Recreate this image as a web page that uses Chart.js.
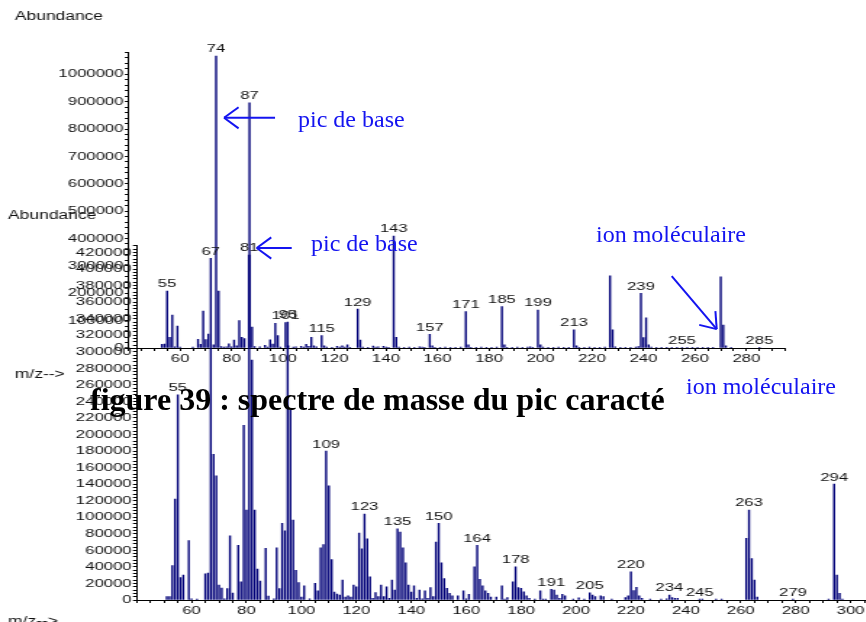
<!DOCTYPE html>
<html>
<head>
<meta charset="utf-8">
<script src="https://cdn.jsdelivr.net/npm/chart.js@4.4.0/dist/chart.umd.min.js"></script>
<style>
  html, body { margin: 0; padding: 0; background: #fff; }
  #sheet { position: relative; width: 866px; height: 622px; overflow: hidden; background: #fff; }
  #sheet canvas { position: absolute; left: 0; top: 0; transform: scaleX(1.45); transform-origin: 0 0; }
  #notes { position: absolute; left: 0; top: 0; }
</style>
</head>
<body>
<div id="sheet">
  <canvas id="specTop" width="598" height="622"></canvas>
  <canvas id="specBottom" width="598" height="622"></canvas>
  <svg id="notes" width="866" height="622" xmlns="http://www.w3.org/2000/svg"></svg>
</div>
<script>
// spectrum 1 (upper): m/z and abundance
var topMz = [53, 54, 55, 56, 57, 58, 59, 60, 65, 67, 68, 69, 70, 71, 73, 74, 75, 76, 77, 78, 79, 80,
  81, 82, 83, 84, 85, 87, 88, 89, 91, 93, 94, 95, 96, 97, 98, 99, 101, 102, 104, 105, 107, 108, 109,
  110, 111, 112, 113, 115, 116, 117, 119, 121, 122, 123, 124, 125, 126, 129, 130, 131, 133, 135, 136,
  137, 139, 140, 141, 143, 144, 145, 147, 149, 151, 153, 154, 155, 157, 158, 159, 161, 163, 165, 167,
  169, 171, 172, 173, 175, 177, 179, 181, 183, 185, 186, 187, 189, 191, 193, 195, 196, 197, 199, 200,
  201, 203, 205, 207, 209, 211, 213, 214, 215, 217, 219, 221, 223, 225, 227, 228, 229, 231, 233, 235,
  237, 238, 239, 240, 241, 242, 243, 245, 247, 249, 251, 253, 255, 257, 259, 261, 263, 265, 267, 270,
  271, 272, 274, 285];
var topAbund = [13500, 14600, 208000, 39000, 120000, 4000, 80000, 3000, 3000, 32000, 13000, 135000,
  31000, 51000, 12000, 1067000, 208000, 5000, 3000, 4000, 15000, 4000, 29000, 8000, 100000, 39000,
  34000, 896000, 76000, 5000, 4000, 10000, 3000, 30000, 14000, 90000, 45000, 3000, 92500, 8000, 3000,
  4000, 6000, 3000, 13000, 6000, 39000, 8000, 4000, 45000, 8000, 3000, 2000, 6000, 3000, 8000, 3000,
  12000, 2000, 142000, 29000, 3000, 2000, 7000, 3000, 4000, 6000, 3000, 2000, 409000, 39000, 3000,
  2000, 3000, 2000, 4000, 3000, 2000, 50000, 8000, 2000, 2000, 3000, 2000, 2000, 3000, 133000, 12000,
  2000, 2000, 3000, 2000, 2000, 3000, 151000, 12000, 2000, 2000, 3000, 2000, 3000, 4000, 2000, 139000,
  12000, 3000, 2000, 2000, 3000, 2000, 2000, 66000, 8000, 2000, 2000, 3000, 2000, 2000, 3000, 264000,
  66000, 4000, 2000, 2000, 2000, 3000, 5000, 200000, 38000, 110000, 12000, 3000, 2000, 2000, 2000,
  2000, 2000, 2000, 2000, 2000, 2000, 2000, 2000, 2000, 260000, 84000, 8000, 2000, 1000];
var topPeakLabels = [55, 74, 87, 101, 115, 129, 143, 157, 171, 185, 199, 213, 239, 255, 285];
var topYLabels = [0, 100000, 200000, 300000, 400000, 500000, 600000, 700000, 800000, 900000, 1000000];
var topXLabels = [60, 80, 100, 120, 140, 160, 180, 200, 220, 240, 260, 280];

// spectrum 2 (lower): m/z and abundance
var botMz = [51, 52, 53, 54, 55, 56, 57, 59, 60, 62, 65, 66, 67, 68, 69, 70, 71, 72, 73, 74, 75, 77,
  78, 79, 80, 81, 82, 83, 84, 85, 87, 88, 90, 91, 92, 93, 94, 95, 96, 97, 98, 99, 100, 101, 103, 105,
  106, 107, 108, 109, 110, 111, 112, 113, 114, 115, 116, 117, 118, 119, 120, 121, 122, 123, 124, 125,
  126, 127, 128, 129, 130, 131, 132, 133, 134, 135, 136, 137, 138, 139, 140, 141, 142, 143, 144, 145,
  146, 147, 148, 149, 150, 151, 152, 153, 154, 155, 157, 159, 160, 161, 163, 164, 165, 166, 167, 168,
  169, 171, 173, 174, 175, 177, 178, 179, 180, 181, 182, 183, 185, 187, 188, 189, 191, 192, 193, 194,
  195, 196, 199, 201, 203, 205, 206, 207, 209, 210, 213, 218, 219, 220, 221, 222, 223, 224, 227, 231,
  233, 234, 235, 236, 237, 245, 246, 251, 253, 262, 263, 264, 265, 266, 279, 292, 294, 295, 296, 297];
var botAbund = [4000, 4000, 41500, 122000, 248000, 27000, 30000, 71700, 1500, 1000, 31500, 32600,
  413000, 176000, 150000, 18000, 14500, 1500, 13700, 77700, 8500, 66000, 22000, 211000, 108800,
  417000, 290000, 108800, 37500, 23000, 62500, 4800, 1500, 63000, 13700, 92700, 83500, 336000, 229600,
  96700, 36000, 21000, 3600, 17000, 1500, 20000, 11000, 63000, 67000, 180000, 138000, 49000, 9700,
  7300, 6000, 24000, 3600, 5000, 3600, 18000, 16000, 81000, 62000, 104000, 74000, 28000, 2000, 9000,
  4000, 18000, 4000, 16000, 2000, 24000, 12000, 86000, 82000, 63000, 45000, 18000, 9500, 17000, 2000,
  12000, 1500, 11000, 2000, 15000, 4000, 70000, 92700, 45000, 26000, 14000, 8000, 5000, 5000, 11000,
  1500, 7000, 40000, 66000, 25000, 17000, 11000, 8000, 3600, 3600, 17000, 1000, 3000, 22000, 40000,
  15000, 14000, 10000, 5000, 2000, 1000, 11000, 1000, 1000, 13000, 12000, 6000, 2000, 7000, 5000,
  1000, 2500, 1000, 8800, 6000, 4000, 5000, 4000, 1000, 3000, 5000, 34000, 11300, 15300, 5000, 2000,
  1000, 1000, 1500, 6000, 3000, 2000, 2000, 1000, 1000, 1000, 1000, 74500, 108800, 50000, 24000, 3600,
  1000, 1000, 140000, 30000, 8000, 1000];
var botPeakLabels = [55, 67, 81, 95, 109, 123, 135, 150, 164, 178, 191, 205, 220, 234, 245, 263, 279, 294];
var botYLabels = [0, 20000, 40000, 60000, 80000, 100000, 120000, 140000, 160000, 180000, 200000,
  220000, 240000, 260000, 280000, 300000, 320000, 340000, 360000, 380000, 400000, 420000];
var botXLabels = [60, 80, 100, 120, 140, 160, 180, 200, 220, 240, 260, 280, 300];

var STRETCH = 1.45;   // the spectra are printed horizontally widened
var SANS = '"Liberation Sans", Arial, sans-serif';
var SERIF = '"Liberation Serif", "Times New Roman", serif';

// peak numbers above bars plus the small axis captions
function spectrumMarks(mz, ab, labels, cap) {
  return {
    id: 'spectrumMarks',
    afterDatasetsDraw: function (chart) {
      var ctx = chart.ctx, xs = chart.scales.x, ys = chart.scales.y;
      ctx.save();
      ctx.font = '11.5px ' + SANS;
      ctx.fillStyle = '#111';
      ctx.textAlign = 'center';
      ctx.textBaseline = 'bottom';
      labels.forEach(function (m) {
        var i = mz.indexOf(m);
        if (i < 0) return;
        ctx.fillText(String(m), xs.getPixelForValue(m), ys.getPixelForValue(ab[i]) - 1);
      });
      ctx.font = '12px ' + SANS;
      ctx.textAlign = 'left';
      ctx.textBaseline = 'middle';
      ctx.fillText('Abundance', cap.x, chart.chartArea.top - cap.above);
      ctx.fillText('m/z-->', cap.x, chart.chartArea.bottom + cap.below);
      ctx.restore();
    }
  };
}

function spectrumChart(id, mz, ab, o) {
  var tickFont = { family: SANS, size: 11.5 };
  return new Chart(document.getElementById(id), {
    type: 'bar',
    data: {
      datasets: [{
        data: mz.map(function (m, i) { return { x: m, y: ab[i] }; }),
        backgroundColor: '#000078',
        barThickness: 0.75,
        grouped: false
      }]
    },
    options: {
      responsive: false,
      animation: false,
      devicePixelRatio: 1,
      events: [],
      layout: { autoPadding: false, padding: o.padding },
      plugins: { legend: { display: false }, tooltip: { enabled: false } },
      scales: {
        x: {
          type: 'linear', min: o.xMin, max: o.xMax, bounds: 'data', offset: false,
          afterFit: function (s) { s.height = 20; s.paddingLeft = 0; s.paddingRight = 0; },
          grid: { offset: false, drawOnChartArea: false, tickLength: 3, color: '#000' },
          border: { color: '#000', width: 1 },
          ticks: {
            stepSize: 5, autoSkip: false, maxRotation: 0, minRotation: 0, includeBounds: false,
            padding: 1, color: '#111', font: tickFont,
            callback: function (v) { return o.xLabels.indexOf(v) >= 0 ? String(v) : ''; }
          }
        },
        y: {
          type: 'linear', min: 0, max: o.yMax, bounds: 'data',
          afterFit: function (s) { s.width = o.yWidth; s.paddingTop = 0; s.paddingBottom = 0; },
          grid: { drawOnChartArea: false, tickLength: 2.5, color: '#000' },
          border: { color: '#000', width: 1 },
          ticks: {
            stepSize: o.yStep, autoSkip: false, includeBounds: false,
            padding: 1, color: '#111', font: tickFont,
            callback: function (v) { return o.yLabels.indexOf(v) >= 0 ? String(v) : ''; }
          }
        }
      }
    },
    plugins: [spectrumMarks(mz, ab, o.peakLabels, o.caption)]
  });
}

var chartTop = spectrumChart('specTop', topMz, topAbund, {
  xMin: 40, xMax: 295, yMax: 1080000, yStep: 20000, yWidth: 88.62,
  padding: { left: 0, top: 52.4, right: 56.55, bottom: 254 },
  xLabels: topXLabels, yLabels: topYLabels, peakLabels: topPeakLabels,
  caption: { x: 10.3, above: 35.7, below: 27 }
});

var chartBottom = spectrumChart('specBottom', botMz, botAbund, {
  xMin: 40, xMax: 306, yMax: 428000, yStep: 4000, yWidth: 94.21,
  padding: { left: 0, top: 245.9, right: 0, bottom: 2 },
  xLabels: botXLabels, yLabels: botYLabels, peakLabels: botPeakLabels,
  caption: { x: 5.6, above: 29.9, below: 22 }
});

// annotations: arrows anchored on the spectra, blue notes and the caption
var svg = document.getElementById('notes');
var NS = 'http://www.w3.org/2000/svg';

function el(name, attrs, text) {
  var e = document.createElementNS(NS, name);
  Object.keys(attrs).forEach(function (k) { e.setAttribute(k, attrs[k]); });
  if (text) e.textContent = text;
  svg.appendChild(e);
  return e;
}

function at(chart, m, v) {
  return [chart.scales.x.getPixelForValue(m) * STRETCH, chart.scales.y.getPixelForValue(v)];
}

function arrow(tip, tail) {
  var blue = '#1414f0';
  el('line', { x1: tail[0], y1: tail[1], x2: tip[0], y2: tip[1], stroke: blue, 'stroke-width': 2 });
  var ang = Math.atan2(tail[1] - tip[1], tail[0] - tip[0]);
  [-0.63, 0.63].forEach(function (d) {
    el('line', {
      x1: tip[0], y1: tip[1],
      x2: tip[0] + 18 * Math.cos(ang + d), y2: tip[1] + 18 * Math.sin(ang + d),
      stroke: blue, 'stroke-width': 2
    });
  });
}

var p74 = at(chartTop, 74, 841000);
arrow([p74[0] + 8, p74[1]], [p74[0] + 59, p74[1]]);
var p81 = at(chartBottom, 81, 417000);
arrow([p81[0] + 7.5, p81[1] - 7], [p81[0] + 42.5, p81[1] - 7]);
var p270 = at(chartTop, 270, 69000);
arrow([p270[0] - 4, p270[1]], [p270[0] - 49, p270[1] - 53]);

var noteStyle = { fill: '#1414f0', 'font-family': SERIF, 'font-size': 24 };
function note(x, y, s) {
  var a = Object.assign({ x: x, y: y }, noteStyle);
  el('text', a, s);
}
note(298, 127, 'pic de base');
note(311, 251, 'pic de base');
note(596, 242, 'ion moléculaire');
note(686, 394, 'ion moléculaire');

var clip = el('clipPath', { id: 'capClip' });
var r = document.createElementNS(NS, 'rect');
r.setAttribute('x', 0); r.setAttribute('y', 0); r.setAttribute('width', 665); r.setAttribute('height', 622);
clip.appendChild(r);
el('text', {
  x: 90, y: 410, fill: '#000', 'font-family': SERIF, 'font-size': 32, 'font-weight': 'bold',
  'clip-path': 'url(#capClip)'
}, 'figure 39 : spectre de masse du pic caractéristique');
</script>
</body>
</html>
